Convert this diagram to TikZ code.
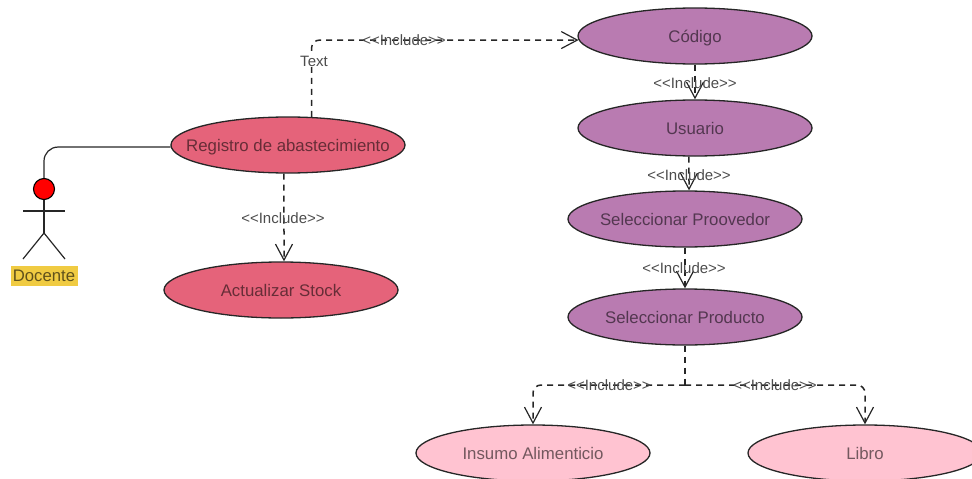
\documentclass[tikz,border=0pt]{standalone}
\usepackage{fontspec}
\setmainfont{Liberation Sans}
\usetikzlibrary{arrows.meta,shapes.geometric}
\definecolor{casered}{HTML}{E5637A}
\definecolor{casepurple}{HTML}{B97BB1}
\definecolor{casepink}{HTML}{FFC3D1}
\definecolor{labelgold}{HTML}{F0CB42}
\newcommand{\casetext}[1]{\makebox[0pt]{#1}}
\tikzset{
	usecase/.style={ellipse,draw=black!85,line width=1.3pt,minimum width=234,minimum height=56,inner sep=0pt,text height=12pt,text depth=0pt,font=\fontsize{16.8}{18}\selectfont},
	redcase/.style={usecase,fill=casered,text=black!55!casered},
	purplecase/.style={usecase,fill=casepurple,text=black!55!casepurple},
	pinkcase/.style={usecase,fill=casepink,text=black!55!casepink},
	includeline/.style={dash pattern=on 6pt off 5pt,line width=1.5pt,draw=black!85,rounded corners=8pt},
	includearrow/.style={includeline,-{Straight Barb[length=16pt,width=17pt,line width=1.2pt]}},
	includelabel/.style={text=black!70,inner sep=1pt,font=\fontsize{15}{17}\selectfont},
	actorline/.style={draw=black!85,line width=1.2pt}
}
\begin{document}
\begin{tikzpicture}[x=1pt,y=-1pt]
\useasboundingbox (0,0) rectangle (972,479);
\node[redcase] (registro) at (288,145) {\casetext{Registro de abastecimiento}};
\node[redcase] (actualizar) at (281,290) {\casetext{Actualizar Stock}};
\node[purplecase] (codigo) at (695,36) {\casetext{Código}};
\node[purplecase] (usuario) at (695,128) {\casetext{Usuario}};
\node[purplecase] (proovedor) at (685,219) {\casetext{Seleccionar Proovedor}};
\node[purplecase] (producto) at (685,317) {\casetext{Seleccionar Producto}};
\node[pinkcase] (insumo) at (533,453) {\casetext{Insumo Alimenticio}};
\node[pinkcase] (libro) at (865,453) {\casetext{Libro}};
\node[circle,draw=black,fill=red,line width=1.1pt,minimum size=21,inner sep=0pt] (head) at (44,189) {};
\coordinate (hip) at (44,233);
\draw[actorline] (head.south) -- (hip);
\draw[actorline] (23,211) -- (65,211);
\draw[actorline] (23,259) -- (hip) -- (65,259);
\node[fill=labelgold,text=black!60!labelgold,minimum width=67,minimum height=20,inner sep=0pt,font=\fontsize{16.7}{18}\selectfont] (docente) at (44,276) {\casetext{Docente}};
\draw[actorline,rounded corners=14pt] (registro.181.5) -| (head.north);
\draw[includearrow] (registro.50) |- (codigo.182.5);
\node[fill=white,text=black!70,inner sep=1pt,font=\fontsize{15}{17}\selectfont] (textlabel) at (314,61) {Text};
\node[includelabel] (incl1) at (404,40) {<{}<Include>{}>};
\draw[includearrow] (codigo.south) -- (usuario.north);
\node[includelabel] (incl2) at (695,83) {<{}<Include>{}>};
\draw[includearrow] (usuario.258) -- (proovedor.82);
\node[includelabel] (incl3) at (689,175) {<{}<Include>{}>};
\draw[includearrow] (proovedor.south) -- (producto.north);
\node[includelabel] (incl4) at (684,268) {<{}<Include>{}>};
\draw[includearrow] (registro.262) -- (actualizar.84);
\node[includelabel] (incl5) at (283,218) {<{}<Include>{}>};
\coordinate (fork) at (685,385);
\draw[includeline] (producto.south) -- (fork);
\draw[includearrow] (fork) -| (insumo.north);
\draw[includearrow] (fork) -| (libro.north);
\node[includelabel] (incl6) at (609,385) {<{}<Include>{}>};
\node[includelabel] (incl7) at (775,385) {<{}<Include>{}>};
\end{tikzpicture}
\end{document}
